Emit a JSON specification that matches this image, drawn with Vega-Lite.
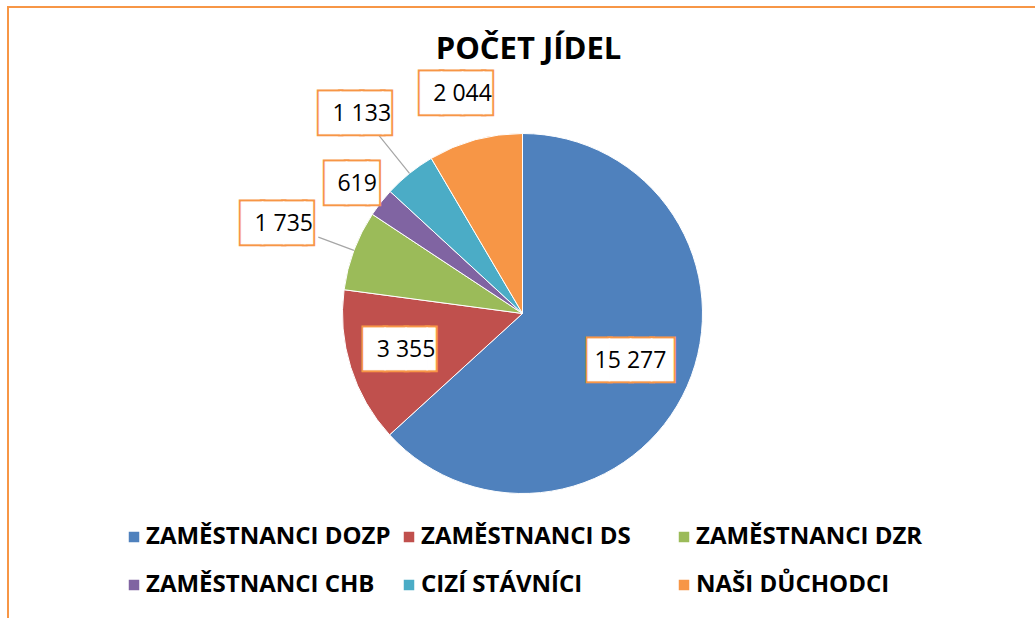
{
  "$schema": "https://vega.github.io/schema/vega-lite/v6.json",
  "width": 1029,
  "height": 613,
  "autosize": {"type": "none"},
  "padding": {"left": 8, "top": 7, "right": -2, "bottom": -2},
  "background": "white",
  "config": {
    "view": {"stroke": "#F79646", "strokeWidth": 2},
    "font": "Open Sans"
  },
  "title": {
    "text": "POČET JÍDEL",
    "orient": "top",
    "anchor": "middle",
    "offset": -42,
    "dy": 32,
    "baseline": "middle",
    "fontSize": 31,
    "font": "Open Sans",
    "fontWeight": "bold",
    "color": "#000000",
    "dx": 6
  },
  "data": {
    "values": [
      {"category": "ZAMĚSTNANCI DOZP", "value": 15277},
      {"category": "ZAMĚSTNANCI DS", "value": 3355},
      {"category": "ZAMĚSTNANCI DZR", "value": 1735},
      {"category": "ZAMĚSTNANCI CHB", "value": 619},
      {"category": "CIZÍ STÁVNÍCI", "value": 1133},
      {"category": "NAŠI DŮCHODCI", "value": 2044}
    ]
  },
  "transform": [
    {"window": [{"op": "sum", "field": "value", "as": "cum"}], "frame": [null, 0]},
    {"joinaggregate": [{"op": "sum", "field": "value", "as": "total"}]},
    {"calculate": "(datum.cum - datum.value) / datum.total * 2 * PI", "as": "a0"},
    {"calculate": "datum.cum / datum.total * 2 * PI", "as": "a1"},
    {"calculate": "(datum.a0 + datum.a1) / 2", "as": "am"},
    {"calculate": "replace(format(datum.value, ','), ',', ' ')", "as": "label"},
    {"calculate": "length(datum.label) == 3 ? '██▌' : (length(datum.label) == 6 ? '████' : '███▍')", "as": "box"}
  ],
  "layer": [
    {
      "mark": {"type": "point", "opacity": 0},
      "encoding": {
        "x": {"field": "value", "type": "quantitative", "axis": null},
        "y": {"field": "value", "type": "quantitative", "axis": null}
      }
    },
    {
      "mark": {"type": "arc", "outerRadius": 180, "stroke": "#ffffff", "strokeWidth": 1},
      "encoding": {
        "theta": {"field": "a0", "type": "quantitative", "scale": null, "stack": null},
        "theta2": {"field": "a1"},
        "color": {
          "field": "category",
          "type": "nominal",
          "scale": {
            "domain": ["ZAMĚSTNANCI DOZP", "ZAMĚSTNANCI DS", "ZAMĚSTNANCI DZR", "ZAMĚSTNANCI CHB", "CIZÍ STÁVNÍCI", "NAŠI DŮCHODCI"],
            "range": ["#4F81BD", "#C0504D", "#9BBB59", "#8064A2", "#4BACC6", "#F79646"]
          },
          "legend": {
            "orient": "none",
            "legendX": 114,
            "legendY": 518,
            "direction": "horizontal",
            "columns": 3,
            "gridAlign": "all",
            "columnPadding": 6,
            "rowPadding": 24,
            "symbolType": "square",
            "symbolSize": 110,
            "symbolStrokeWidth": 0,
            "labelFont": "Open Sans",
            "labelFontWeight": "bold",
            "labelFontSize": 24,
            "labelColor": "#000000",
            "labelOffset": 0,
            "labelLimit": 400,
            "title": null,
            "padding": 0
          }
        }
      }
    },
    {
      "transform": [{"filter": "datum.category == 'ZAMĚSTNANCI DZR'"}],
      "mark": {"type": "arc", "innerRadius": 180, "outerRadius": 218, "stroke": "#A6A6A6", "strokeWidth": 1.2, "fill": "#A6A6A6"},
      "encoding": {
        "theta": {"field": "am", "type": "quantitative", "scale": null, "stack": null},
        "theta2": {"field": "am"}
      }
    },
    {
      "transform": [{"filter": "datum.category == 'CIZÍ STÁVNÍCI'"}],
      "mark": {"type": "arc", "innerRadius": 180, "outerRadius": 230, "stroke": "#A6A6A6", "strokeWidth": 1.2, "fill": "#A6A6A6"},
      "encoding": {
        "theta": {"field": "am", "type": "quantitative", "scale": null, "stack": null},
        "theta2": {"field": "am"}
      }
    },
    {
      "transform": [{"filter": "datum.category == 'ZAMĚSTNANCI DOZP'"}],
      "encoding": {"theta": {"field": "am", "type": "quantitative", "scale": null, "stack": null}},
      "layer": [
        {"mark": {"type": "text", "radius": 118, "font": "DejaVu Sans Mono", "fontSize": 35, "fill": "#F79646", "stroke": "#F79646", "strokeWidth": 5, "align": "center", "baseline": "middle"}, "encoding": {"text": {"field": "box"}}},
        {"mark": {"type": "text", "radius": 118, "font": "DejaVu Sans Mono", "fontSize": 35, "fill": "#ffffff", "stroke": "#ffffff", "strokeWidth": 1, "align": "center", "baseline": "middle"}, "encoding": {"text": {"field": "box"}}},
        {"mark": {"type": "text", "radius": 118, "font": "Open Sans", "fontSize": 23, "fill": "#000000", "align": "center", "baseline": "middle"}, "encoding": {"text": {"field": "label"}}}
      ]
    },
    {
      "transform": [{"filter": "datum.category == 'ZAMĚSTNANCI DS'"}],
      "encoding": {"theta": {"field": "am", "type": "quantitative", "scale": null, "stack": null}},
      "layer": [
        {"mark": {"type": "text", "radius": 122, "font": "DejaVu Sans Mono", "fontSize": 35, "fill": "#F79646", "stroke": "#F79646", "strokeWidth": 5, "align": "center", "baseline": "middle"}, "encoding": {"text": {"field": "box"}}},
        {"mark": {"type": "text", "radius": 122, "font": "DejaVu Sans Mono", "fontSize": 35, "fill": "#ffffff", "stroke": "#ffffff", "strokeWidth": 1, "align": "center", "baseline": "middle"}, "encoding": {"text": {"field": "box"}}},
        {"mark": {"type": "text", "radius": 122, "font": "Open Sans", "fontSize": 23, "fill": "#000000", "align": "center", "baseline": "middle"}, "encoding": {"text": {"field": "label"}}}
      ]
    },
    {
      "transform": [{"filter": "datum.category == 'ZAMĚSTNANCI DZR'"}],
      "encoding": {"theta": {"field": "am", "type": "quantitative", "scale": null, "stack": null}},
      "layer": [
        {"mark": {"type": "text", "radius": 255, "font": "DejaVu Sans Mono", "fontSize": 35, "fill": "#F79646", "stroke": "#F79646", "strokeWidth": 5, "align": "center", "baseline": "middle"}, "encoding": {"text": {"field": "box"}}},
        {"mark": {"type": "text", "radius": 255, "font": "DejaVu Sans Mono", "fontSize": 35, "fill": "#ffffff", "stroke": "#ffffff", "strokeWidth": 1, "align": "center", "baseline": "middle"}, "encoding": {"text": {"field": "box"}}},
        {"mark": {"type": "text", "radius": 255, "font": "Open Sans", "fontSize": 23, "fill": "#000000", "align": "center", "baseline": "middle"}, "encoding": {"text": {"field": "label"}}}
      ]
    },
    {
      "transform": [{"filter": "datum.category == 'ZAMĚSTNANCI CHB'"}],
      "encoding": {"theta": {"field": "am", "type": "quantitative", "scale": null, "stack": null}},
      "layer": [
        {"mark": {"type": "text", "radius": 210, "font": "DejaVu Sans Mono", "fontSize": 35, "fill": "#F79646", "stroke": "#F79646", "strokeWidth": 5, "align": "center", "baseline": "middle"}, "encoding": {"text": {"field": "box"}}},
        {"mark": {"type": "text", "radius": 210, "font": "DejaVu Sans Mono", "fontSize": 35, "fill": "#ffffff", "stroke": "#ffffff", "strokeWidth": 1, "align": "center", "baseline": "middle"}, "encoding": {"text": {"field": "box"}}},
        {"mark": {"type": "text", "radius": 210, "font": "Open Sans", "fontSize": 23, "fill": "#000000", "align": "center", "baseline": "middle"}, "encoding": {"text": {"field": "label"}}}
      ]
    },
    {
      "transform": [{"filter": "datum.category == 'CIZÍ STÁVNÍCI'"}],
      "encoding": {"theta": {"field": "am", "type": "quantitative", "scale": null, "stack": null}},
      "layer": [
        {"mark": {"type": "text", "radius": 256, "font": "DejaVu Sans Mono", "fontSize": 35, "fill": "#F79646", "stroke": "#F79646", "strokeWidth": 5, "align": "center", "baseline": "middle"}, "encoding": {"text": {"field": "box"}}},
        {"mark": {"type": "text", "radius": 256, "font": "DejaVu Sans Mono", "fontSize": 35, "fill": "#ffffff", "stroke": "#ffffff", "strokeWidth": 1, "align": "center", "baseline": "middle"}, "encoding": {"text": {"field": "box"}}},
        {"mark": {"type": "text", "radius": 256, "font": "Open Sans", "fontSize": 23, "fill": "#000000", "align": "center", "baseline": "middle"}, "encoding": {"text": {"field": "label"}}}
      ]
    },
    {
      "transform": [{"filter": "datum.category == 'NAŠI DŮCHODCI'"}],
      "encoding": {"theta": {"field": "am", "type": "quantitative", "scale": null, "stack": null}},
      "layer": [
        {"mark": {"type": "text", "radius": 228, "font": "DejaVu Sans Mono", "fontSize": 35, "fill": "#F79646", "stroke": "#F79646", "strokeWidth": 5, "align": "center", "baseline": "middle"}, "encoding": {"text": {"field": "box"}}},
        {"mark": {"type": "text", "radius": 228, "font": "DejaVu Sans Mono", "fontSize": 35, "fill": "#ffffff", "stroke": "#ffffff", "strokeWidth": 1, "align": "center", "baseline": "middle"}, "encoding": {"text": {"field": "box"}}},
        {"mark": {"type": "text", "radius": 228, "font": "Open Sans", "fontSize": 23, "fill": "#000000", "align": "center", "baseline": "middle"}, "encoding": {"text": {"field": "label"}}}
      ]
    }
  ]
}
